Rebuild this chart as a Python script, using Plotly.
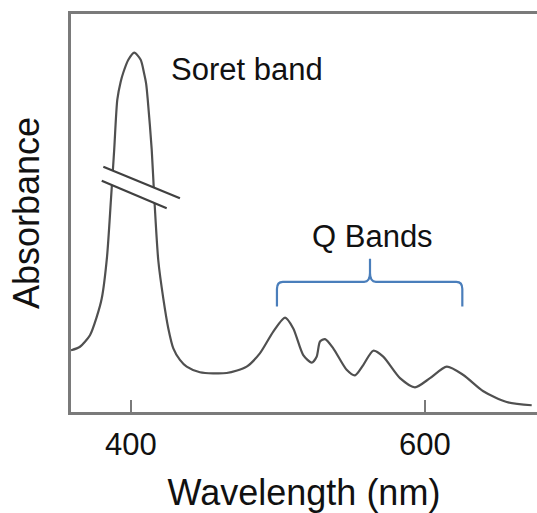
import plotly.graph_objects as go

# Porphyrin-type UV-Vis absorption spectrum (arbitrary absorbance units)
wavelength_nm = [
    359.2, 365.3, 372.1, 376.7, 380.1, 383.7, 386.4, 388.6, 390.7, 393.0,
    394.8, 398.2, 402.2, 406.6, 408.8, 410.3, 411.4, 414.1, 415.9, 418.6,
    422.0, 425.4, 428.8, 433.3, 437.9, 446.9, 465.1, 478.7, 487.8, 496.8,
    504.8, 510.4, 517.2, 522.9, 526.3, 528.6, 532.0, 537.6, 546.7, 552.4,
    558.0, 564.8, 571.6, 583.0, 593.2, 603.4, 614.8, 626.1, 639.7, 655.6,
    672.6,
]
absorbance = [
    0.155, 0.164, 0.193, 0.239, 0.285, 0.390, 0.535, 0.660, 0.785, 0.830,
    0.853, 0.885, 0.903, 0.885, 0.853, 0.825, 0.785, 0.660, 0.535, 0.380,
    0.285, 0.210, 0.160, 0.131, 0.114, 0.100, 0.098, 0.114, 0.148, 0.202,
    0.237, 0.210, 0.143, 0.124, 0.139, 0.177, 0.183, 0.160, 0.106, 0.092,
    0.118, 0.154, 0.139, 0.085, 0.062, 0.085, 0.114, 0.093, 0.052, 0.025,
    0.017,
]

x_ticks = [400, 600]
x_tick_labels = ["400", "600"]

FONT = "Liberation Sans, Arial, sans-serif"
AXIS_GREY = "#7a7a7a"
CURVE_GREY = "#505050"
BRACKET_BLUE = "#4a7ebb"

fig = go.Figure()
fig.add_trace(go.Scatter(
    x=wavelength_nm, y=absorbance, mode="lines",
    line=dict(color=CURVE_GREY, width=2.2, shape="spline", smoothing=0.7),
    hoverinfo="skip", showlegend=False,
))

# Axis-break marks across the Soret peak: white gap between two slanted strokes
b1 = [(381.2, 0.616), (433.3, 0.537)]
b2 = [(380.1, 0.581), (424.3, 0.512)]
fig.add_shape(
    type="path", xref="x", yref="y", layer="above",
    path=(f"M {b1[0][0]},{b1[0][1]} L {b1[1][0]},{b1[1][1]} "
          f"L {b2[1][0]},{b2[1][1]} L {b2[0][0]},{b2[0][1]} Z"),
    fillcolor="white", line=dict(width=0),
)
for (xa, ya), (xb, yb) in (b1, b2):
    fig.add_shape(type="line", xref="x", yref="y", layer="above",
                  x0=xa, y0=ya, x1=xb, y1=yb,
                  line=dict(color="#404040", width=2.2))

# Curly bracket spanning the Q bands
xl, xc, xr = 499.3, 562.6, 625.4
yb_, yh, yt = 0.265, 0.327, 0.385
bracket = (
    f"M {xl},{yb_} L {xl},{yh - 0.018} Q {xl},{yh} {xl + 4},{yh} "
    f"L {xc - 4},{yh} Q {xc},{yh} {xc},{yh + 0.022} L {xc},{yt} "
    f"M {xc},{yh + 0.022} Q {xc},{yh} {xc + 4},{yh} "
    f"L {xr - 4},{yh} Q {xr},{yh} {xr},{yh - 0.018} L {xr},{yb_}"
)
fig.add_shape(type="path", xref="x", yref="y", path=bracket,
              line=dict(color=BRACKET_BLUE, width=2.2))

fig.add_annotation(x=478.9, y=0.86, xref="x", yref="y", text="Soret band",
                   showarrow=False, font=dict(family=FONT, size=31, color="#111"),
                   xanchor="center", yanchor="middle")
fig.add_annotation(x=564.0, y=0.44, xref="x", yref="y", text="Q Bands",
                   showarrow=False, font=dict(family=FONT, size=31, color="#111"),
                   xanchor="center", yanchor="middle")

fig.update_layout(
    width=537, height=513,
    margin=dict(l=71, r=0, t=14, b=99),
    paper_bgcolor="white", plot_bgcolor="white",
    font=dict(family=FONT, color="#111"),
)
fig.update_xaxes(
    range=[359.2, 676.2], showgrid=False, zeroline=False,
    showline=True, linecolor=AXIS_GREY, linewidth=2.5, mirror=True,
    ticks="inside", ticklen=12, tickwidth=2, tickcolor=AXIS_GREY,
    tickvals=x_ticks, ticktext=x_tick_labels,
    tickfont=dict(family=FONT, size=31, color="#111"),
    ticklabelstandoff=3,
    title=dict(text="Wavelength (nm)", font=dict(family=FONT, size=36, color="#111"),
               standoff=26),
)
fig.update_yaxes(
    range=[0, 1], showgrid=False, zeroline=False,
    showline=True, linecolor=AXIS_GREY, linewidth=2.5, mirror=False,
    showticklabels=False, ticks="",
    title=dict(text="Absorbance", font=dict(family=FONT, size=36, color="#111"),
               standoff=18),
)

fig.write_html("out.html")
